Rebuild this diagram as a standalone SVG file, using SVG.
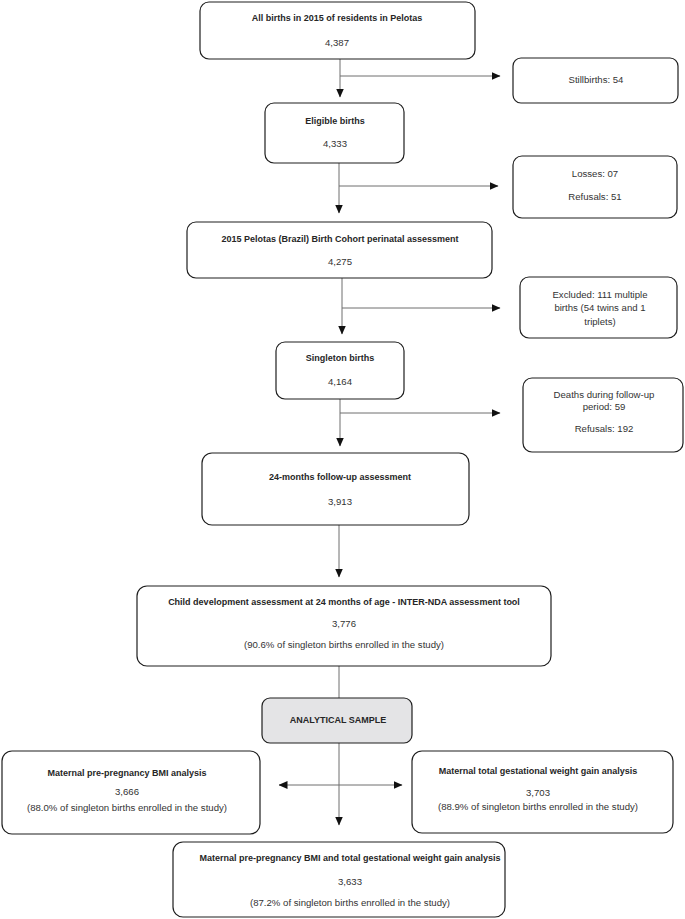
<svg xmlns="http://www.w3.org/2000/svg" width="685" height="919" viewBox="0 0 685 919">
<style>
.box{fill:#ffffff;stroke:#1e1e1e;stroke-width:1.2}
.grey{fill:#e4e4e6}
.b{font-family:"Liberation Sans",Arial,sans-serif;font-size:9px;font-weight:bold;fill:#262626;text-anchor:middle}
.r{font-family:"Liberation Sans",Arial,sans-serif;font-size:9.6px;fill:#333333;text-anchor:middle}
.ln{stroke:#6e6e6e;stroke-width:1;fill:none}
</style>
<defs>
<marker id="ah" markerWidth="9" markerHeight="8" refX="8.5" refY="4" orient="auto" markerUnits="userSpaceOnUse">
<path d="M0,0 L9,4 L0,8 Z" fill="#111111"/>
</marker>
<marker id="as" markerWidth="9" markerHeight="8" refX="0.5" refY="4" orient="auto" markerUnits="userSpaceOnUse">
<path d="M9,0 L0,4 L9,8 Z" fill="#111111"/>
</marker>
</defs>
<g id="connectors">
<line class="ln" x1="340" y1="59" x2="340" y2="97" marker-end="url(#ah)"/>
<line class="ln" x1="340" y1="76" x2="500" y2="76" marker-end="url(#ah)"/>
<line class="ln" x1="339" y1="163" x2="339" y2="213" marker-end="url(#ah)"/>
<line class="ln" x1="339" y1="186" x2="498" y2="186" marker-end="url(#ah)"/>
<line class="ln" x1="342" y1="278" x2="342" y2="334" marker-end="url(#ah)"/>
<line class="ln" x1="342" y1="308" x2="500" y2="308" marker-end="url(#ah)"/>
<line class="ln" x1="340" y1="399" x2="340" y2="446" marker-end="url(#ah)"/>
<line class="ln" x1="340" y1="413" x2="500" y2="413" marker-end="url(#ah)"/>
<line class="ln" x1="339" y1="525" x2="339" y2="577" marker-end="url(#ah)"/>
<line class="ln" x1="339" y1="666" x2="339" y2="698"/>
<line class="ln" x1="339" y1="743" x2="339" y2="825" marker-end="url(#ah)"/>
<line class="ln" x1="279" y1="785" x2="402" y2="785" marker-start="url(#as)" marker-end="url(#ah)"/>
</g>
<g id="n1">
<rect class="box" x="200" y="2" width="275" height="57" rx="9"/>
<text class="b" x="337" y="21">All births in 2015 of residents in Pelotas</text>
<text class="r" x="337" y="46">4,387</text>
</g>
<g id="n-stillbirths">
<rect class="box" x="513" y="58" width="165" height="45" rx="8"/>
<text class="r" x="596" y="83">Stillbirths: 54</text>
</g>
<g id="n2">
<rect class="box" x="265" y="103" width="139" height="60" rx="9"/>
<text class="b" x="335" y="124">Eligible births</text>
<text class="r" x="335" y="147">4,333</text>
</g>
<g id="n-losses">
<rect class="box" x="513" y="156" width="164" height="62" rx="9"/>
<text class="r" x="595" y="177">Losses: 07</text>
<text class="r" x="595" y="200">Refusals: 51</text>
</g>
<g id="n3">
<rect class="box" x="187" y="222" width="305" height="56" rx="9"/>
<text class="b" x="340" y="242">2015 Pelotas (Brazil) Birth Cohort perinatal assessment</text>
<text class="r" x="340" y="265">4,275</text>
</g>
<g id="n-excluded">
<rect class="box" x="520" y="277" width="157" height="61" rx="9"/>
<text class="r" x="600" y="298">Excluded: 111 multiple</text>
<text class="r" x="600" y="311">births (54 twins and 1</text>
<text class="r" x="600" y="325">triplets)</text>
</g>
<g id="n4">
<rect class="box" x="276" y="342" width="128" height="57" rx="9"/>
<text class="b" x="340" y="361">Singleton births</text>
<text class="r" x="340" y="385">4,164</text>
</g>
<g id="n-deaths">
<rect class="box" x="523" y="378" width="160" height="74" rx="9"/>
<text class="r" x="604" y="398">Deaths during follow-up</text>
<text class="r" x="604" y="410">period: 59</text>
<text class="r" x="604" y="432">Refusals: 192</text>
</g>
<g id="n5">
<rect class="box" x="202" y="453" width="267" height="72" rx="10"/>
<text class="b" x="340" y="480">24-months follow-up assessment</text>
<text class="r" x="340" y="505">3,913</text>
</g>
<g id="n6">
<rect class="box" x="137" y="586" width="414" height="80" rx="10"/>
<text class="b" x="344" y="605">Child development assessment at 24 months of age - INTER-NDA assessment tool</text>
<text class="r" x="344" y="627">3,776</text>
<text class="r" x="344" y="648">(90.6% of singleton births enrolled in the study)</text>
</g>
<g id="n7">
<rect class="box grey" x="262" y="698" width="150" height="45" rx="8"/>
<text class="b" x="338" y="723">ANALYTICAL SAMPLE</text>
</g>
<g id="n8">
<rect class="box" x="2" y="751" width="258" height="83" rx="10"/>
<text class="b" x="127" y="776">Maternal pre-pregnancy BMI analysis</text>
<text class="r" x="127" y="795">3,666</text>
<text class="r" x="127" y="811">(88.0% of singleton births enrolled in the study)</text>
</g>
<g id="n9">
<rect class="box" x="412" y="751" width="261" height="82" rx="10"/>
<text class="b" x="538" y="774">Maternal total gestational weight gain analysis</text>
<text class="r" x="538" y="796">3,703</text>
<text class="r" x="538" y="810">(88.9% of singleton births enrolled in the study)</text>
</g>
<g id="n10">
<rect class="box" x="173" y="842" width="332" height="75" rx="10"/>
<text class="b" x="350" y="861">Maternal pre-pregnancy BMI and total gestational weight gain analysis</text>
<text class="r" x="350" y="885">3,633</text>
<text class="r" x="350" y="906">(87.2% of singleton births enrolled in the study)</text>
</g>
</svg>
